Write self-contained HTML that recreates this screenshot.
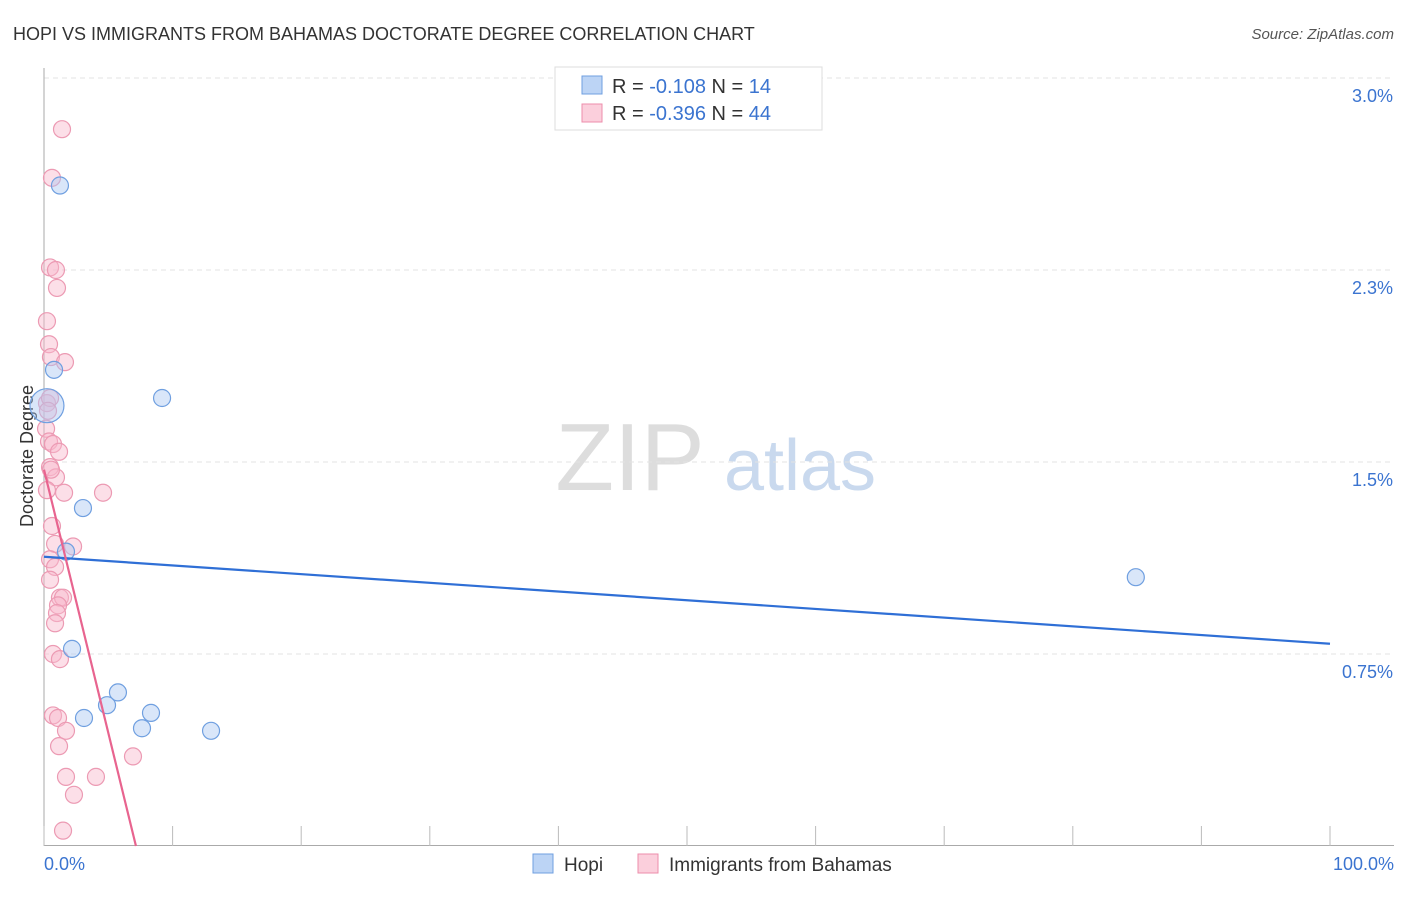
<!DOCTYPE html>
<html><head><meta charset="utf-8"><style>
body{margin:0;background:#fff;font-family:"Liberation Sans",sans-serif;}
svg text{font-family:"Liberation Sans",sans-serif;}
</style></head><body>
<svg id="c" width="1406" height="892">
<text x="13" y="40" font-size="18" fill="#333">HOPI VS IMMIGRANTS FROM BAHAMAS DOCTORATE DEGREE CORRELATION CHART</text>
<text x="1394" y="39" font-size="15" fill="#555" font-style="italic" text-anchor="end">Source: ZipAtlas.com</text>
<text x="630" y="490" font-size="96" fill="#ddd" font-family="Liberation Serif" text-anchor="middle">ZIP</text>
<text x="800" y="490" font-size="72" fill="#c9d9ee" text-anchor="middle">atlas</text>
<text transform="translate(33,456) rotate(-90)" font-size="18" fill="#333" text-anchor="middle">Doctorate Degree</text>
<g id="grid"></g><g id="pts"></g><g id="lines"></g>
<g>
<rect x="555" y="67" width="267" height="63" fill="#fff" stroke="#ddd"/>
<rect x="582" y="76" width="20" height="18" fill="#bcd4f5" stroke="#6f9fe0"/>
<rect x="582" y="104" width="20" height="18" fill="#fbcfdc" stroke="#ec8eab"/>
<text x="612" y="93" font-size="20" fill="#333">R = <tspan fill="#3b74d0">-0.108</tspan>   N = <tspan fill="#3b74d0"> 14</tspan></text>
<text x="612" y="120" font-size="20" fill="#333">R = <tspan fill="#3b74d0">-0.396</tspan>   N = <tspan fill="#3b74d0">44</tspan></text>
</g>
<g>
<rect x="533" y="854" width="20" height="19" fill="#bcd4f5" stroke="#6f9fe0"/>
<text x="564" y="871" font-size="19" fill="#333">Hopi</text>
<rect x="638" y="854" width="20" height="19" fill="#fbcfdc" stroke="#ec8eab"/>
<text x="669" y="871" font-size="19" fill="#333">Immigrants from Bahamas</text>
</g>
<text x="44" y="870" font-size="18" fill="#3b74d0">0.0%</text>
<text x="1394" y="870" font-size="18" fill="#3b74d0" text-anchor="end">100.0%</text>
</svg>
<script>
const yTicks=[3.0,2.25,1.5,0.75];
const yTickLabels=["3.0%","2.3%","1.5%","0.75%"];
const hopiX=[1.24,0.78,0.23,9.18,3.03,1.71,2.18,5.75,4.90,3.11,8.32,7.62,12.99,84.9];
const hopiY=[2.58,1.86,1.72,1.75,1.32,1.15,0.77,0.60,0.55,0.50,0.52,0.46,0.45,1.05];
const bahX=[1.40,0.62,0.47,0.93,1.01,0.23,0.39,0.54,1.63,0.23,0.47,0.16,0.39,0.70,1.17,0.47,0.93,1.56,4.59,0.62,0.86,2.26,0.47,0.86,0.47,1.24,1.48,1.09,1.01,0.86,0.70,1.24,0.70,1.09,1.71,1.17,1.71,4.04,2.33,6.92,1.48,0.23,0.31,0.54];
const bahY=[2.80,2.61,2.26,2.25,2.18,2.05,1.96,1.91,1.89,1.73,1.75,1.63,1.58,1.57,1.54,1.48,1.44,1.38,1.38,1.25,1.18,1.17,1.12,1.09,1.04,0.97,0.97,0.94,0.91,0.87,0.75,0.73,0.51,0.50,0.45,0.39,0.27,0.27,0.20,0.35,0.06,1.39,1.70,1.47];
const hopiTrend=[1.13,0.79];
const bahTrend=[1.47,0];const bahTrendEndX=7.15;
const NS="http://www.w3.org/2000/svg";
const X=v=>44+v*12.86, Y=v=>846-v*256;
function mk(t,a,p){const e=document.createElementNS(NS,t);for(const k in a)e.setAttribute(k,a[k]);p.appendChild(e);return e;}
const g=document.getElementById('grid');
yTicks.forEach((t,i)=>{
 const l=mk('line',{x1:44,x2:1394,y1:Y(t),y2:Y(t),stroke:'#e3e3e3','stroke-dasharray':'5,4'},g);
 
 
 const tx=mk('text',{x:1393,y:Y(t)+24,'font-size':18,fill:'#3b74d0','text-anchor':'end'},g);
 tx.textContent=yTickLabels[i];
 
 
});
const ax=mk('line',{x1:44,x2:44,y1:68,y2:846,stroke:'#aaa'},g);


const bx=mk('line',{x1:44,x2:1394,y1:845.5,y2:845.5,stroke:'#aaa'},g);


for(let i=0;i<=10;i++){
 const t=mk('line',{x1:X(i*10),x2:X(i*10),y1:826,y2:846,stroke:'#bbb'},g);
 
 
}
const p=document.getElementById('pts');
bahX.forEach((v,i)=>{
 const c=mk('circle',{cx:X(v),cy:Y(bahY[i]),r:8.5,fill:'rgba(248,185,205,0.45)',stroke:'#ec9ab3','stroke-width':1.2},p);
 
 
});
hopiX.forEach((v,i)=>{
 const c=mk('circle',{cx:X(v),cy:Y(hopiY[i]),r:i==2?17:8.5,fill:'rgba(170,200,242,0.45)',stroke:'#6f9fe0','stroke-width':1.2},p);
 
 
});
const L=document.getElementById('lines');
const hl=mk('line',{x1:X(0),y1:Y(hopiTrend[0]),x2:X(100),y2:Y(hopiTrend[1]),stroke:'#2f6fd6','stroke-width':2.2},L);


const bl=mk('line',{x1:X(0),y1:Y(bahTrend[0]),x2:X(bahTrendEndX),y2:Y(bahTrend[1]),stroke:'#e8648f','stroke-width':2.2},L);


</script>
</body></html>
